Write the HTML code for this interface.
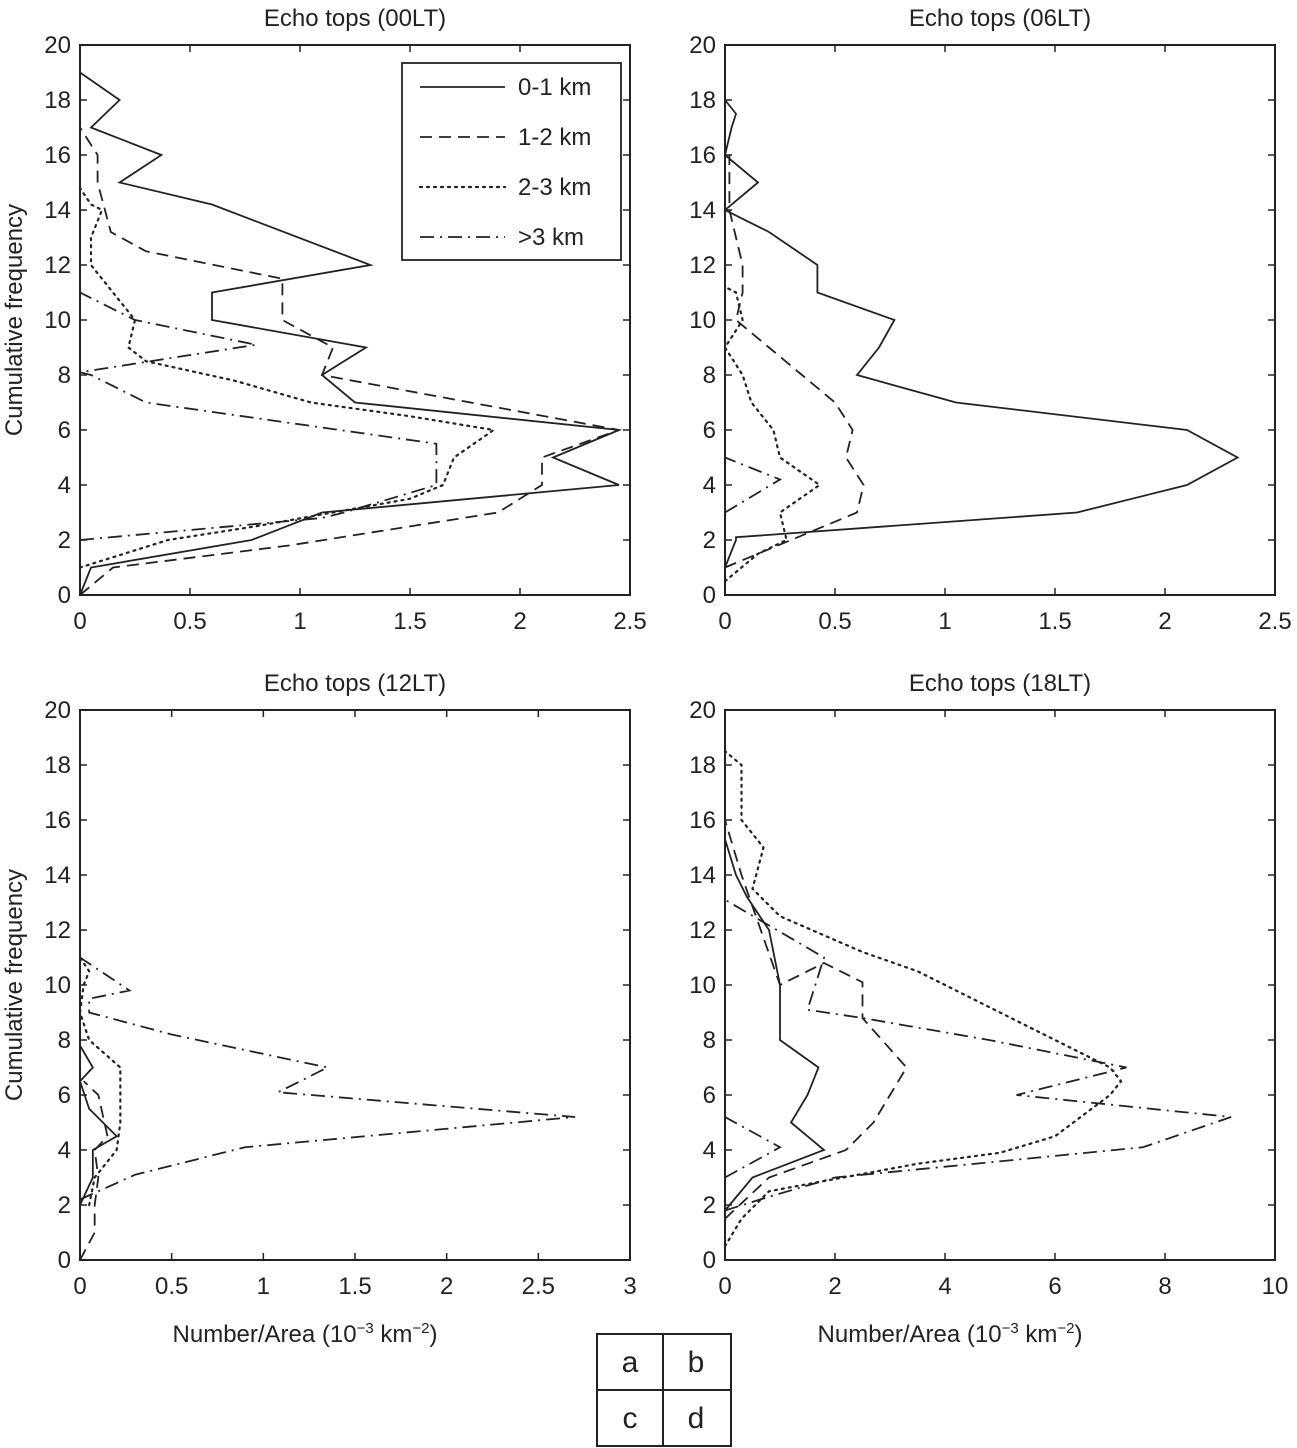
<!DOCTYPE html>
<html><head><meta charset="utf-8"><style>
html,body{margin:0;padding:0;background:#fff;}
svg{display:block;font-family:"Liberation Sans",Arial,sans-serif;}
</style></head><body>
<svg id="chart" width="1297" height="1448" viewBox="0 0 1297 1448" xmlns="http://www.w3.org/2000/svg"></svg>
<script>
const yTicks=[0,2,4,6,8,10,12,14,16,18,20];
const xTicksA=[0,0.5,1,1.5,2,2.5];
const xTicksB=[0,0.5,1,1.5,2,2.5];
const xTicksC=[0,0.5,1,1.5,2,2.5,3];
const xTicksD=[0,2,4,6,8,10];
const titles=["Echo tops (00LT)","Echo tops (06LT)","Echo tops (12LT)","Echo tops (18LT)"];
const legendLabels=["0-1 km","1-2 km","2-3 km",">3 km"];
// panel a
const a_s1=[[0,0],[0.05,1],[0.78,2],[1.1,3],[2.45,4],[2.15,5],[2.45,6],[1.25,7],[1.1,8],[1.3,9],[0.6,10],[0.6,11],[1.32,12],[0.6,14.2],[0.18,15],[0.37,16],[0.05,17],[0.18,18],[0,19]];
const a_s2=[[0,0],[0.15,1],[0.95,1.8],[1.9,3],[2.1,4],[2.1,5],[2.45,6],[1.1,8],[1.15,9],[0.92,10],[0.92,11.5],[0.3,12.5],[0.14,13.2],[0.08,15],[0.08,16],[0,17]];
const a_s3=[[0,1],[0.2,1.5],[0.4,2],[0.8,2.5],[1.5,3.5],[1.65,4],[1.7,5],[1.88,6],[1.5,6.5],[1.05,7],[0.7,7.8],[0.3,8.5],[0.22,9],[0.25,10],[0.15,11],[0.05,12],[0.05,13],[0.1,14],[0.05,14.2],[0,14.8]];
const a_s4=[[0,2],[1.1,2.8],[1.2,3],[1.62,4],[1.62,5.5],[0.3,7],[0.05,8],[0,8.1],[0.8,9.1],[0.25,10],[0,11]];
// panel b
const b_s1=[[0,1],[0.05,2],[0.05,2.1],[1.6,3],[2.1,4],[2.33,5],[2.1,6],[1.05,7],[0.6,8],[0.7,9],[0.77,10],[0.42,11],[0.42,12],[0.2,13.2],[0,14],[0.15,15],[0,16],[0.03,17],[0.05,17.5],[0,18]];
const b_s2=[[0,1],[0.3,2],[0.6,3],[0.63,4],[0.55,5],[0.58,6],[0.5,7],[0.35,8],[0.2,9],[0.05,10],[0.08,11],[0.08,12],[0.05,13],[0.02,14],[0.02,16]];
const b_s3=[[0,0.5],[0.15,1.5],[0.28,2],[0.25,3],[0.43,4],[0.25,5],[0.22,6],[0.12,7],[0.08,8],[0,9],[0.08,10],[0.05,11],[0,11.2]];
const b_s4=[[0,3],[0.25,4.2],[0,5]];
// panel c
const c_s1=[[0,2],[0.07,3],[0.07,4],[0.2,4.5],[0.05,5.5],[0,6.5],[0.07,7],[0,7.8]];
const c_s2=[[0,0],[0.08,1],[0.08,2],[0.1,3],[0.08,4],[0.15,4.5],[0.1,6],[0.02,6.5]];
const c_s3=[[0.05,2],[0.08,3],[0.2,4],[0.22,5],[0.22,6],[0.22,7],[0.05,8],[0,9],[0.02,10],[0.05,10.5],[0,11]];
const c_s4=[[0,2.2],[0.3,3.1],[0.9,4.1],[2.7,5.2],[1.08,6.1],[1.35,7],[0.5,8.2],[0.05,9],[0.05,9.5],[0.27,9.8],[0,11]];
// panel d
const d_s1=[[0,1.8],[0.5,3],[1.8,4],[1.2,5],[1.5,6],[1.7,7],[1,8],[1,9],[1,10],[0.8,12],[0.4,13.2],[0.2,14],[0,15.3]];
const d_s2=[[0,1.5],[0.8,3],[2.2,4],[2.7,5],[3,6],[3.3,7],[2.5,8.8],[2.5,10.1],[1.8,10.8],[1,10],[0.3,14],[0,16]];
const d_s3=[[0,0.5],[0.3,1.5],[0.8,2.5],[3.5,3.5],[5,3.9],[6,4.5],[7,6],[7.2,6.5],[7,7],[5.5,8.5],[4.5,9.5],[3.5,10.5],[2.5,11.2],[1,12.5],[0.5,13.5],[0.7,15],[0.3,16],[0.3,18],[0,18.5]];
const d_s4=[[0,1.8],[0.8,2.3],[2,3],[7.6,4.1],[9.2,5.2],[5.3,6],[7.3,7],[4.8,8],[2.5,8.8],[1.5,9.1],[1.8,11],[0,13.1]];
const d_s4b=[[0,3],[1,4.1],[0,5.2]];

const NS="http://www.w3.org/2000/svg";
const svg=document.getElementById('chart');
function mk(t,at,parent){const e=document.createElementNS(NS,t);for(const k in at)e.setAttribute(k,at[k]);(parent||svg).appendChild(e);return e;}
const dashes=["none","12,7","2,5","14,6,2,6"];
const FS=24;
const panels=[
 {id:'a',L:80,T:45,W:550,H:550,xmax:2.5,xt:xTicksA,series:[a_s1,a_s2,a_s3,a_s4],styles:[0,1,2,3],xlabel:false},
 {id:'b',L:725,T:45,W:550,H:550,xmax:2.5,xt:xTicksB,series:[b_s1,b_s2,b_s3,b_s4],styles:[0,1,2,3],xlabel:false},
 {id:'c',L:80,T:710,W:550,H:550,xmax:3,xt:xTicksC,series:[c_s1,c_s2,c_s3,c_s4],styles:[0,1,2,3],xlabel:true},
 {id:'d',L:725,T:710,W:550,H:550,xmax:10,xt:xTicksD,series:[d_s1,d_s2,d_s3,d_s4,d_s4b],styles:[0,1,2,3,3],xlabel:true}
];
panels.forEach((p,pi)=>{
 const g=mk('g',{});
 
 
 const xs=v=>p.L+v/p.xmax*p.W, ys=v=>p.T+p.H-v/20*p.H;
 const t=mk('text',{x:p.L+p.W/2,y:p.T-19,'text-anchor':'middle','font-size':FS,fill:'#222'},g);t.textContent=titles[pi];
 
 yTicks.forEach(v=>{
  mk('line',{x1:p.L,x2:p.L+7,y1:ys(v),y2:ys(v),stroke:'#222','stroke-width':1.5},g);
  mk('line',{x1:p.L+p.W-7,x2:p.L+p.W,y1:ys(v),y2:ys(v),stroke:'#222','stroke-width':1.5},g);
  const l=mk('text',{x:p.L-9,y:ys(v)+8,'text-anchor':'end','font-size':FS,fill:'#222'},g);l.textContent=v;
  
 });
 p.xt.forEach(v=>{
  mk('line',{x1:xs(v),x2:xs(v),y1:p.T,y2:p.T+7,stroke:'#222','stroke-width':1.5},g);
  mk('line',{x1:xs(v),x2:xs(v),y1:p.T+p.H-7,y2:p.T+p.H,stroke:'#222','stroke-width':1.5},g);
  const l=mk('text',{x:xs(v),y:p.T+p.H+34,'text-anchor':'middle','font-size':FS,fill:'#222'},g);l.textContent=v;
  
 });
 p.series.forEach((s,si)=>{
  const pl=mk('polyline',{points:s.map(q=>xs(q[0])+','+ys(q[1])).join(' '),fill:'none',stroke:'#222','stroke-width':p.styles[si]==2?2.2:1.8,'stroke-dasharray':dashes[p.styles[si]],'stroke-linecap':p.styles[si]==2?'round':'butt'},g);
  
  
 });
 const fr=mk('rect',{x:p.L,y:p.T,width:p.W,height:p.H,fill:'none',stroke:'#222','stroke-width':2},g);
 
 if(p.L<100){
  const yl=mk('text',{x:0,y:0,transform:`translate(22,${p.T+p.H/2}) rotate(-90)`,'text-anchor':'middle','font-size':FS,fill:'#222'},g);
  yl.textContent='Cumulative frequency';
  
 }
 if(p.xlabel){
  const xl=mk('text',{x:p.L+p.W/2-50,y:1342,'text-anchor':'middle','font-size':FS,fill:'#222'},g);
  xl.innerHTML='Number/Area (10<tspan dy="-9" font-size="15">−3</tspan><tspan dy="9"> km</tspan><tspan dy="-9" font-size="15">−2</tspan><tspan dy="9">)</tspan>';
  
 }
});
// legend
const lg=mk('g',{});


mk('rect',{x:402,y:63,width:219,height:197,fill:'#fff',stroke:'#222','stroke-width':1.8},lg);
legendLabels.forEach((lab,i)=>{
 const y=87+i*50;
 const ln=mk('line',{x1:420,x2:505,y1:y,y2:y,stroke:'#222','stroke-width':i==2?2.2:1.8,'stroke-dasharray':dashes[i],'stroke-linecap':i==2?'round':'butt'},lg);
 
 const t=mk('text',{x:518,y:y+8,'font-size':FS,fill:'#222'},lg);t.textContent=lab;
 
});
// panel key
const kg=mk('g',{});


mk('rect',{x:597,y:1334,width:134,height:112,fill:'none',stroke:'#222','stroke-width':2},kg);
mk('line',{x1:663,x2:663,y1:1334,y2:1446,stroke:'#222','stroke-width':2},kg);
mk('line',{x1:597,x2:731,y1:1390,y2:1390,stroke:'#222','stroke-width':2},kg);
[['a',630,1372],['b',696,1372],['c',630,1428],['d',696,1428]].forEach(k=>{
 const t=mk('text',{x:k[1],y:k[2],'text-anchor':'middle','font-size':30,fill:'#222'},kg);t.textContent=k[0];
 
});
</script>
</body></html>
